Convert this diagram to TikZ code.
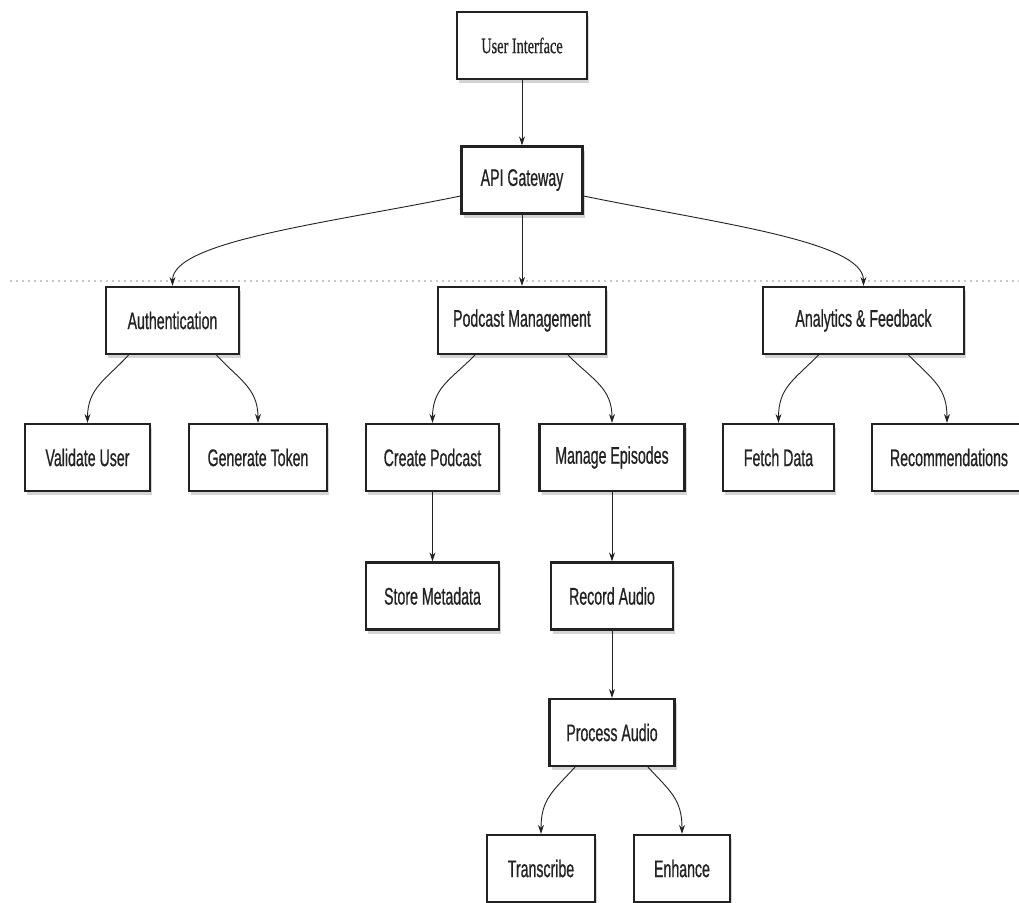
\documentclass[tikz,border=0pt]{standalone}
\usepackage{fontspec}
\setmainfont{Liberation Sans}[FakeStretch=0.59,FakeBold=0.6]
\newfontfamily\uifont{Liberation Serif}[FakeStretch=0.65,FakeBold=0.6]
\usetikzlibrary{shadows,arrows.meta}
\definecolor{ink}{HTML}{222222}
\definecolor{dotgray}{HTML}{C8C8C8}
\tikzset{
  box/.style={draw=ink, line width=2.2pt, fill=white, text=ink,
    minimum height=67pt, inner sep=0pt,
    font=\fontsize{24}{27}\selectfont,
    drop shadow={shadow xshift=2pt, shadow yshift=-4pt, opacity=0.28, fill=black!60}},
  conn/.style={draw=ink, line width=0.9pt, -{Stealth[length=9pt,width=6pt]}},
  guide/.style={draw=dotgray, line width=2.2pt, dash pattern=on 2pt off 4pt}
}
\begin{document}
\begin{tikzpicture}[x=1pt,y=-1pt]
\useasboundingbox (0,0) rectangle (1019,902);
\clip (0,0) rectangle (1019,902);
\fill[white] (0,0) rectangle (1019,902);

% dotted guide line
\coordinate (gl) at (10,281);
\coordinate (gr) at (1019,281);
\draw[guide] (gl) -- (gr);

% nodes
\node[box, minimum width=130pt, font=\uifont\fontsize{22}{25}\selectfont] (ui) at (522,45.5) {User Interface};
\node[box, minimum width=121pt] (api) at (522,180) {API Gateway};

\node[box, minimum width=133pt] (auth) at (172.5,320.5) {Authentication};
\node[box, minimum width=168pt] (pm) at (522,320.5) {Podcast Management};
\node[box, minimum width=201pt] (af) at (863.5,320.5) {Analytics \& Feedback};

\node[box, minimum width=125pt] (vu) at (87.5,457.5) {Validate User};
\node[box, minimum width=138pt] (gt) at (258,457.5) {Generate Token};
\node[box, minimum width=133pt] (cp) at (432.5,457.5) {Create Podcast};
\node[box, minimum width=145pt] (me) at (612,457.5) {Manage Episodes};
\node[box, minimum width=111pt] (fd) at (778.5,457.5) {Fetch Data};
\node[box, minimum width=154pt] (rec) at (949,457.5) {Recommendations};

\node[box, minimum width=133pt] (sm) at (432.5,596) {Store Metadata};
\node[box, minimum width=122pt] (ra) at (612,596) {Record Audio};

\node[box, minimum width=125pt] (pa) at (612,732.5) {Process Audio};

\node[box, minimum width=108pt] (tr) at (541,868.5) {Transcribe};
\node[box, minimum width=96pt] (en) at (682,868.5) {Enhance};

% connectors
\draw[conn] (ui.south) -- (api.north);
\draw[conn] (api.south) -- (pm.north);
\draw[conn] ([yshift=-16pt]api.west) .. controls +(-131,27) and +(0,-45) .. (auth.north);
\draw[conn] ([yshift=-16pt]api.east) .. controls +(131,27) and +(0,-45) .. (af.north);

\draw[conn] ([xshift=-44pt]auth.south) .. controls +(-22,24) and +(0,-35) .. (vu.north);
\draw[conn] ([xshift=44pt]auth.south) .. controls +(22,24) and +(0,-35) .. (gt.north);

\draw[conn] ([xshift=-47pt]pm.south) .. controls +(-25,25) and +(0,-35) .. (cp.north);
\draw[conn] ([xshift=46pt]pm.south) .. controls +(25,25) and +(0,-35) .. (me.north);

\draw[conn] ([xshift=-45pt]af.south) .. controls +(-25,25) and +(0,-35) .. (fd.north);
\draw[conn] ([xshift=45pt]af.south) .. controls +(25,25) and +(0,-35) .. ([xshift=-2pt]rec.north);

\draw[conn] (cp.south) -- (sm.north);
\draw[conn] (me.south) -- (ra.north);
\draw[conn] (ra.south) -- (pa.north);

\draw[conn] ([xshift=-37pt]pa.south) .. controls +(-22,24) and +(0,-35) .. (tr.north);
\draw[conn] ([xshift=36pt]pa.south) .. controls +(22,24) and +(0,-35) .. (en.north);
\end{tikzpicture}
\end{document}
